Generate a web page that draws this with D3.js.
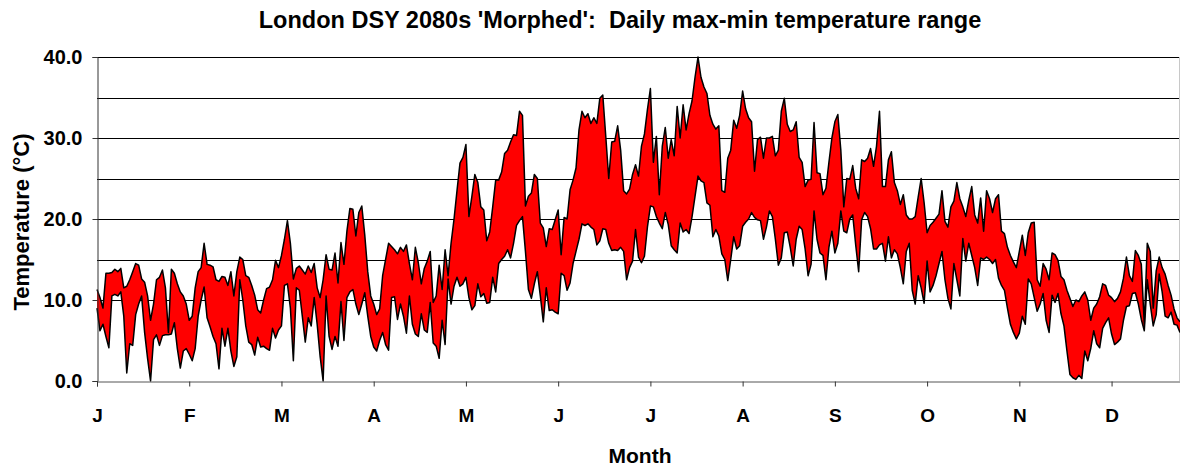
<!DOCTYPE html>
<html>
<head>
<meta charset="utf-8">
<script src="https://cdn.jsdelivr.net/npm/d3@7"></script>
<style>
  body { margin: 0; background: #fff; }
  svg text { font-family: "Liberation Sans", Arial, sans-serif; font-weight: bold; white-space: pre; }
</style>
</head>
<body>
<div id="chart"></div>
<script>
// Daily max temperature (°C), 365 days
var tMax = [
  11.3, 10.3, 9.0, 13.3, 13.3, 13.4, 13.8, 13.5, 13.9, 11.5,
  11.7, 12.5, 13.5, 14.5, 14.3, 12.6, 12.2, 10.5, 7.5, 9.5,
  12.5, 12.8, 13.7, 11.5, 6.0, 13.8, 13.3, 12.0, 11.0, 10.5,
  9.5, 7.5, 8.0, 11.5, 13.5, 14.0, 17.0, 14.4, 14.3, 14.1,
  12.5, 12.3, 12.9, 12.8, 11.8, 13.5, 10.5, 13.5, 15.3, 15.0,
  13.0, 12.8, 11.8, 10.6, 8.8, 8.4, 10.0, 11.4, 11.6, 12.5,
  14.9, 14.0, 15.5, 17.5, 19.8, 17.0, 12.6, 13.9, 14.2, 13.7,
  13.2, 14.2, 13.4, 14.5, 11.5, 10.3, 12.5, 15.6, 13.8, 13.7,
  15.8, 12.1, 17.1, 14.4, 18.5, 21.3, 21.2, 17.9, 20.8, 21.6,
  18.0, 13.5, 10.5, 9.5, 8.2, 8.9, 13.0, 15.0, 17.0, 16.6,
  16.2, 15.7, 16.5, 16.0, 16.8, 14.5, 12.5, 16.5, 14.6, 12.0,
  13.9, 14.8, 16.0, 9.7, 10.5, 14.3, 11.3, 16.2, 13.0, 17.0,
  20.0, 23.5, 26.9, 27.6, 29.2, 20.3, 22.8, 25.5, 24.5, 21.5,
  21.1, 17.3, 18.4, 21.5, 24.8, 24.8, 25.8, 28.1, 28.5, 29.5,
  30.4, 30.3, 33.3, 32.8, 21.6, 22.8, 23.2, 25.5, 25.0, 19.5,
  18.9, 16.6, 18.8, 18.7, 19.9, 21.1, 15.6, 20.2, 20.0, 23.6,
  24.8, 26.3, 31.0, 33.3, 32.5, 33.0, 31.8, 32.5, 31.8, 34.9,
  35.3, 30.2, 25.0, 29.5, 29.6, 31.5, 28.5, 23.5, 23.1, 23.7,
  25.5, 26.7, 25.3, 29.0, 30.5, 33.5, 36.1, 27.0, 30.2, 23.0,
  29.0, 31.3, 27.5, 29.8, 27.8, 33.9, 30.0, 34.1, 31.0, 33.0,
  34.6, 37.5, 40.0, 37.5, 36.3, 35.5, 32.8, 31.7, 31.1, 31.5,
  23.5, 23.3, 27.5, 28.5, 32.2, 31.2, 32.8, 35.8, 33.6, 32.5,
  32.0, 25.9, 29.8, 30.1, 27.5, 30.0, 30.0, 30.2, 27.8, 28.5,
  33.3, 34.9, 31.7, 30.8, 31.0, 32.0, 27.6, 27.0, 24.0, 24.8,
  24.9, 31.9, 25.7, 25.6, 23.0, 23.8, 27.0, 30.0, 32.0, 32.9,
  28.5, 21.5, 25.0, 24.9, 26.6, 23.8, 22.5, 27.3, 27.1, 27.5,
  28.7, 26.5, 29.0, 33.3, 24.0, 24.0, 27.3, 28.3, 24.5, 23.5,
  21.8, 23.0, 20.5, 20.0, 20.0, 20.3, 22.7, 25.0, 22.0, 18.3,
  19.2, 19.6, 20.1, 20.6, 23.5, 19.7, 19.0, 21.5, 22.2, 24.5,
  22.5, 21.5, 20.3, 22.3, 24.0, 20.5, 19.5, 22.6, 18.5, 23.5,
  22.5, 20.8, 22.5, 23.0, 18.5, 18.2, 16.5, 15.5, 14.7, 14.0,
  16.0, 18.0, 15.5, 18.3, 19.5, 19.6, 12.5, 11.7, 14.5, 13.8,
  12.5, 15.8, 15.6, 14.9, 12.9, 12.5, 11.2, 10.2, 9.2, 10.0,
  9.8, 10.5, 11.0, 10.0, 7.5, 9.0, 9.5, 10.4, 12.0, 11.8,
  10.6, 10.3, 9.8, 10.2, 11.0, 12.7, 15.3, 13.0, 12.3, 16.1,
  15.5, 14.4, 7.0, 17.0, 16.0, 9.0, 13.6, 15.3, 14.0, 13.2,
  11.8, 10.6, 8.9, 7.8, 7.3
];

// Daily min temperature (°C), 365 days
var tMin = [
  9.0, 6.2, 7.0, 5.5, 4.1, 10.5, 10.7, 10.5, 11.0, 8.0,
  1.0, 4.6, 4.4, 8.2, 9.5, 10.5, 6.0, 2.8, 0.0, 5.1,
  5.7, 4.4, 5.6, 5.7, 5.7, 5.8, 7.2, 4.0, 1.6, 3.7,
  4.0, 3.3, 2.5, 4.0, 8.0, 10.0, 11.6, 7.8, 6.7, 5.5,
  4.6, 1.5, 6.5, 4.3, 6.5, 3.7, 1.8, 3.0, 12.5, 10.0,
  6.8, 4.8, 4.5, 3.2, 5.4, 4.2, 4.3, 4.0, 3.8, 6.5,
  5.3, 6.3, 6.8, 11.8, 12.0, 9.0, 2.5, 11.5, 11.2, 8.0,
  4.8, 7.8, 6.8, 10.3, 7.0, 3.0, 0.0, 10.5, 5.5, 3.9,
  5.5, 4.3, 9.8, 5.0, 10.3, 11.0, 11.3, 9.5, 8.2, 9.5,
  10.9, 8.0, 5.5, 4.2, 3.7, 5.0, 6.0, 4.5, 3.8, 10.3,
  10.4, 7.6, 9.5, 8.0, 5.9, 10.5, 7.0, 5.8, 5.5, 8.3,
  6.3, 6.0, 9.7, 4.7, 4.3, 2.8, 7.5, 4.5, 12.6, 9.5,
  11.7, 12.8, 11.7, 12.0, 12.8, 10.3, 8.8, 9.3, 12.0, 10.4,
  10.8, 9.6, 9.7, 12.8, 11.0, 14.5, 15.0, 15.4, 16.2, 15.2,
  17.0, 19.2, 19.8, 20.3, 16.0, 11.3, 10.2, 12.0, 13.5, 10.5,
  7.3, 11.5, 8.7, 8.8, 8.5, 8.3, 13.3, 13.0, 11.2, 12.1,
  14.5, 16.0, 17.5, 19.4, 19.2, 19.4, 19.0, 18.7, 16.8, 17.3,
  18.8, 18.7, 17.0, 16.1, 16.2, 16.1, 16.5, 16.0, 12.5, 14.0,
  14.8, 18.7, 15.3, 14.6, 15.4, 19.0, 21.6, 21.5, 20.3, 19.5,
  18.8, 20.8, 19.3, 16.7, 16.2, 15.8, 19.5, 18.4, 18.7, 18.2,
  20.3, 22.8, 25.3, 24.7, 24.5, 22.0, 21.7, 17.8, 18.7, 17.9,
  15.7, 15.0, 12.4, 15.0, 17.8, 16.3, 16.7, 19.1, 19.6, 20.0,
  20.8, 20.2, 19.9, 19.8, 17.5, 19.0, 21.0, 20.3, 17.5, 14.3,
  15.2, 18.3, 18.4, 16.5, 14.2, 17.5, 19.1, 18.7, 16.3, 13.0,
  14.4, 21.0, 17.5, 15.8, 15.5, 12.5, 16.5, 18.5, 15.8, 17.0,
  21.0, 18.5, 18.3, 20.0, 20.5, 16.8, 13.5, 19.9, 20.8, 20.3,
  18.8, 16.3, 16.3, 16.8, 17.0, 14.8, 17.8, 15.2, 16.2, 15.7,
  14.0, 12.0, 16.0, 17.0, 11.2, 9.5, 13.0, 11.5, 9.6, 14.8,
  11.0, 11.8, 13.0, 14.5, 16.0, 12.5, 10.2, 8.9, 14.5, 12.5,
  10.5, 17.6, 14.8, 17.0, 15.5, 14.0, 11.8, 15.2, 15.0, 15.3,
  15.0, 14.5, 15.0, 12.7, 11.8, 11.2, 9.0, 7.0, 6.0, 5.2,
  5.9, 8.0, 7.0, 12.6, 12.0, 10.3, 8.6, 9.5, 10.8, 7.5,
  6.0, 10.6, 9.7, 10.8, 8.3, 6.8, 3.7, 0.8, 0.4, 0.2,
  0.7, 0.3, 3.7, 2.5, 4.0, 6.2, 4.6, 4.1, 6.5, 7.2,
  7.8, 5.8, 4.5, 4.8, 5.2, 7.5, 9.2, 9.3, 10.8, 10.9,
  9.5, 7.6, 6.2, 12.5, 9.5, 6.8, 8.2, 13.2, 11.0, 8.0,
  7.8, 8.5, 7.0, 6.9, 6.0
];

// Month labels, one every 31 days on the category axis
var monthLabels = ["J", "F", "M", "A", "M", "J", "J", "A", "S", "O", "N", "D"];
var monthDays = [0, 31, 62, 93, 124, 155, 186, 217, 248, 279, 310, 341];
var yTicks = [0, 10, 20, 30, 40];
var gridValues = [10, 15, 20, 25, 30, 35, 40];

var width = 1180, height = 468;
var plotLeft = 97, plotRight = 1180, plotTop = 57, plotBottom = 381;

var svg = d3.select("#chart")
  .append("svg")
  .attr("width", width)
  .attr("height", height);

var x = d3.scaleLinear().domain([0, tMax.length - 1]).range([plotLeft, plotRight]);
var y = d3.scaleLinear().domain([0, 40]).range([plotBottom, plotTop]);

// Gridlines
svg.append("g")
  .selectAll("line")
  .data(gridValues)
  .join("line")
    .attr("x1", plotLeft)
    .attr("x2", plotRight)
    .attr("y1", d => Math.round(y(d)) + 0.5)
    .attr("y2", d => Math.round(y(d)) + 0.5)
    .attr("stroke", "#000")
    .attr("stroke-width", 1);

// right border of plot area
svg.append("line")
  .attr("x1", plotRight - 0.5).attr("x2", plotRight - 0.5)
  .attr("y1", plotTop).attr("y2", plotBottom)
  .attr("stroke", "#c8c8c8");

var days = d3.range(tMax.length);

// Filled band between min and max
var area = d3.area()
  .x(i => x(i))
  .y0(i => y(tMin[i]))
  .y1(i => y(tMax[i]));

svg.append("path")
  .datum(days)
  .attr("d", area)
  .attr("fill", "#ff0000");

var lineMax = d3.line().x(i => x(i)).y(i => y(tMax[i]));
var lineMin = d3.line().x(i => x(i)).y(i => y(tMin[i]));

[lineMax, lineMin].forEach(function(gen) {
  svg.append("path")
    .datum(days)
    .attr("d", gen)
    .attr("fill", "none")
    .attr("stroke", "#000")
    .attr("stroke-width", 1.5)
    .attr("stroke-linejoin", "round");
});

// Y axis
var yAxis = svg.append("g")
  .attr("transform", "translate(" + (plotLeft + 0.5) + ",0)")
  .call(d3.axisLeft(y).tickValues(yTicks).tickFormat(d3.format(".1f")).tickSize(5).tickPadding(10));
yAxis.select(".domain").attr("stroke", "#333");
yAxis.selectAll(".tick line").attr("stroke", "#333");
yAxis.selectAll("text").attr("font-size", 20).attr("fill", "#000");

// X axis
var xAxis = svg.append("g")
  .attr("transform", "translate(0," + (plotBottom + 0.5) + ")")
  .call(d3.axisBottom(x).tickValues(monthDays).tickFormat((d, i) => monthLabels[i]).tickSize(5).tickPadding(22));
xAxis.select(".domain").attr("stroke", "#555");
xAxis.selectAll(".tick line").attr("stroke", "#333");
xAxis.selectAll("text").attr("font-size", 19).attr("fill", "#000");

// Titles
svg.append("text")
  .attr("x", 620)
  .attr("y", 28)
  .attr("text-anchor", "middle")
  .attr("font-size", 23.5)
  .text("London DSY 2080s 'Morphed':  Daily max-min temperature range");

svg.append("text")
  .attr("x", 640)
  .attr("y", 463)
  .attr("text-anchor", "middle")
  .attr("font-size", 21)
  .text("Month");

svg.append("text")
  .attr("transform", "translate(29,222) rotate(-90)")
  .attr("text-anchor", "middle")
  .attr("font-size", 22)
  .text("Temperature (°C)");
</script>
</body>
</html>
